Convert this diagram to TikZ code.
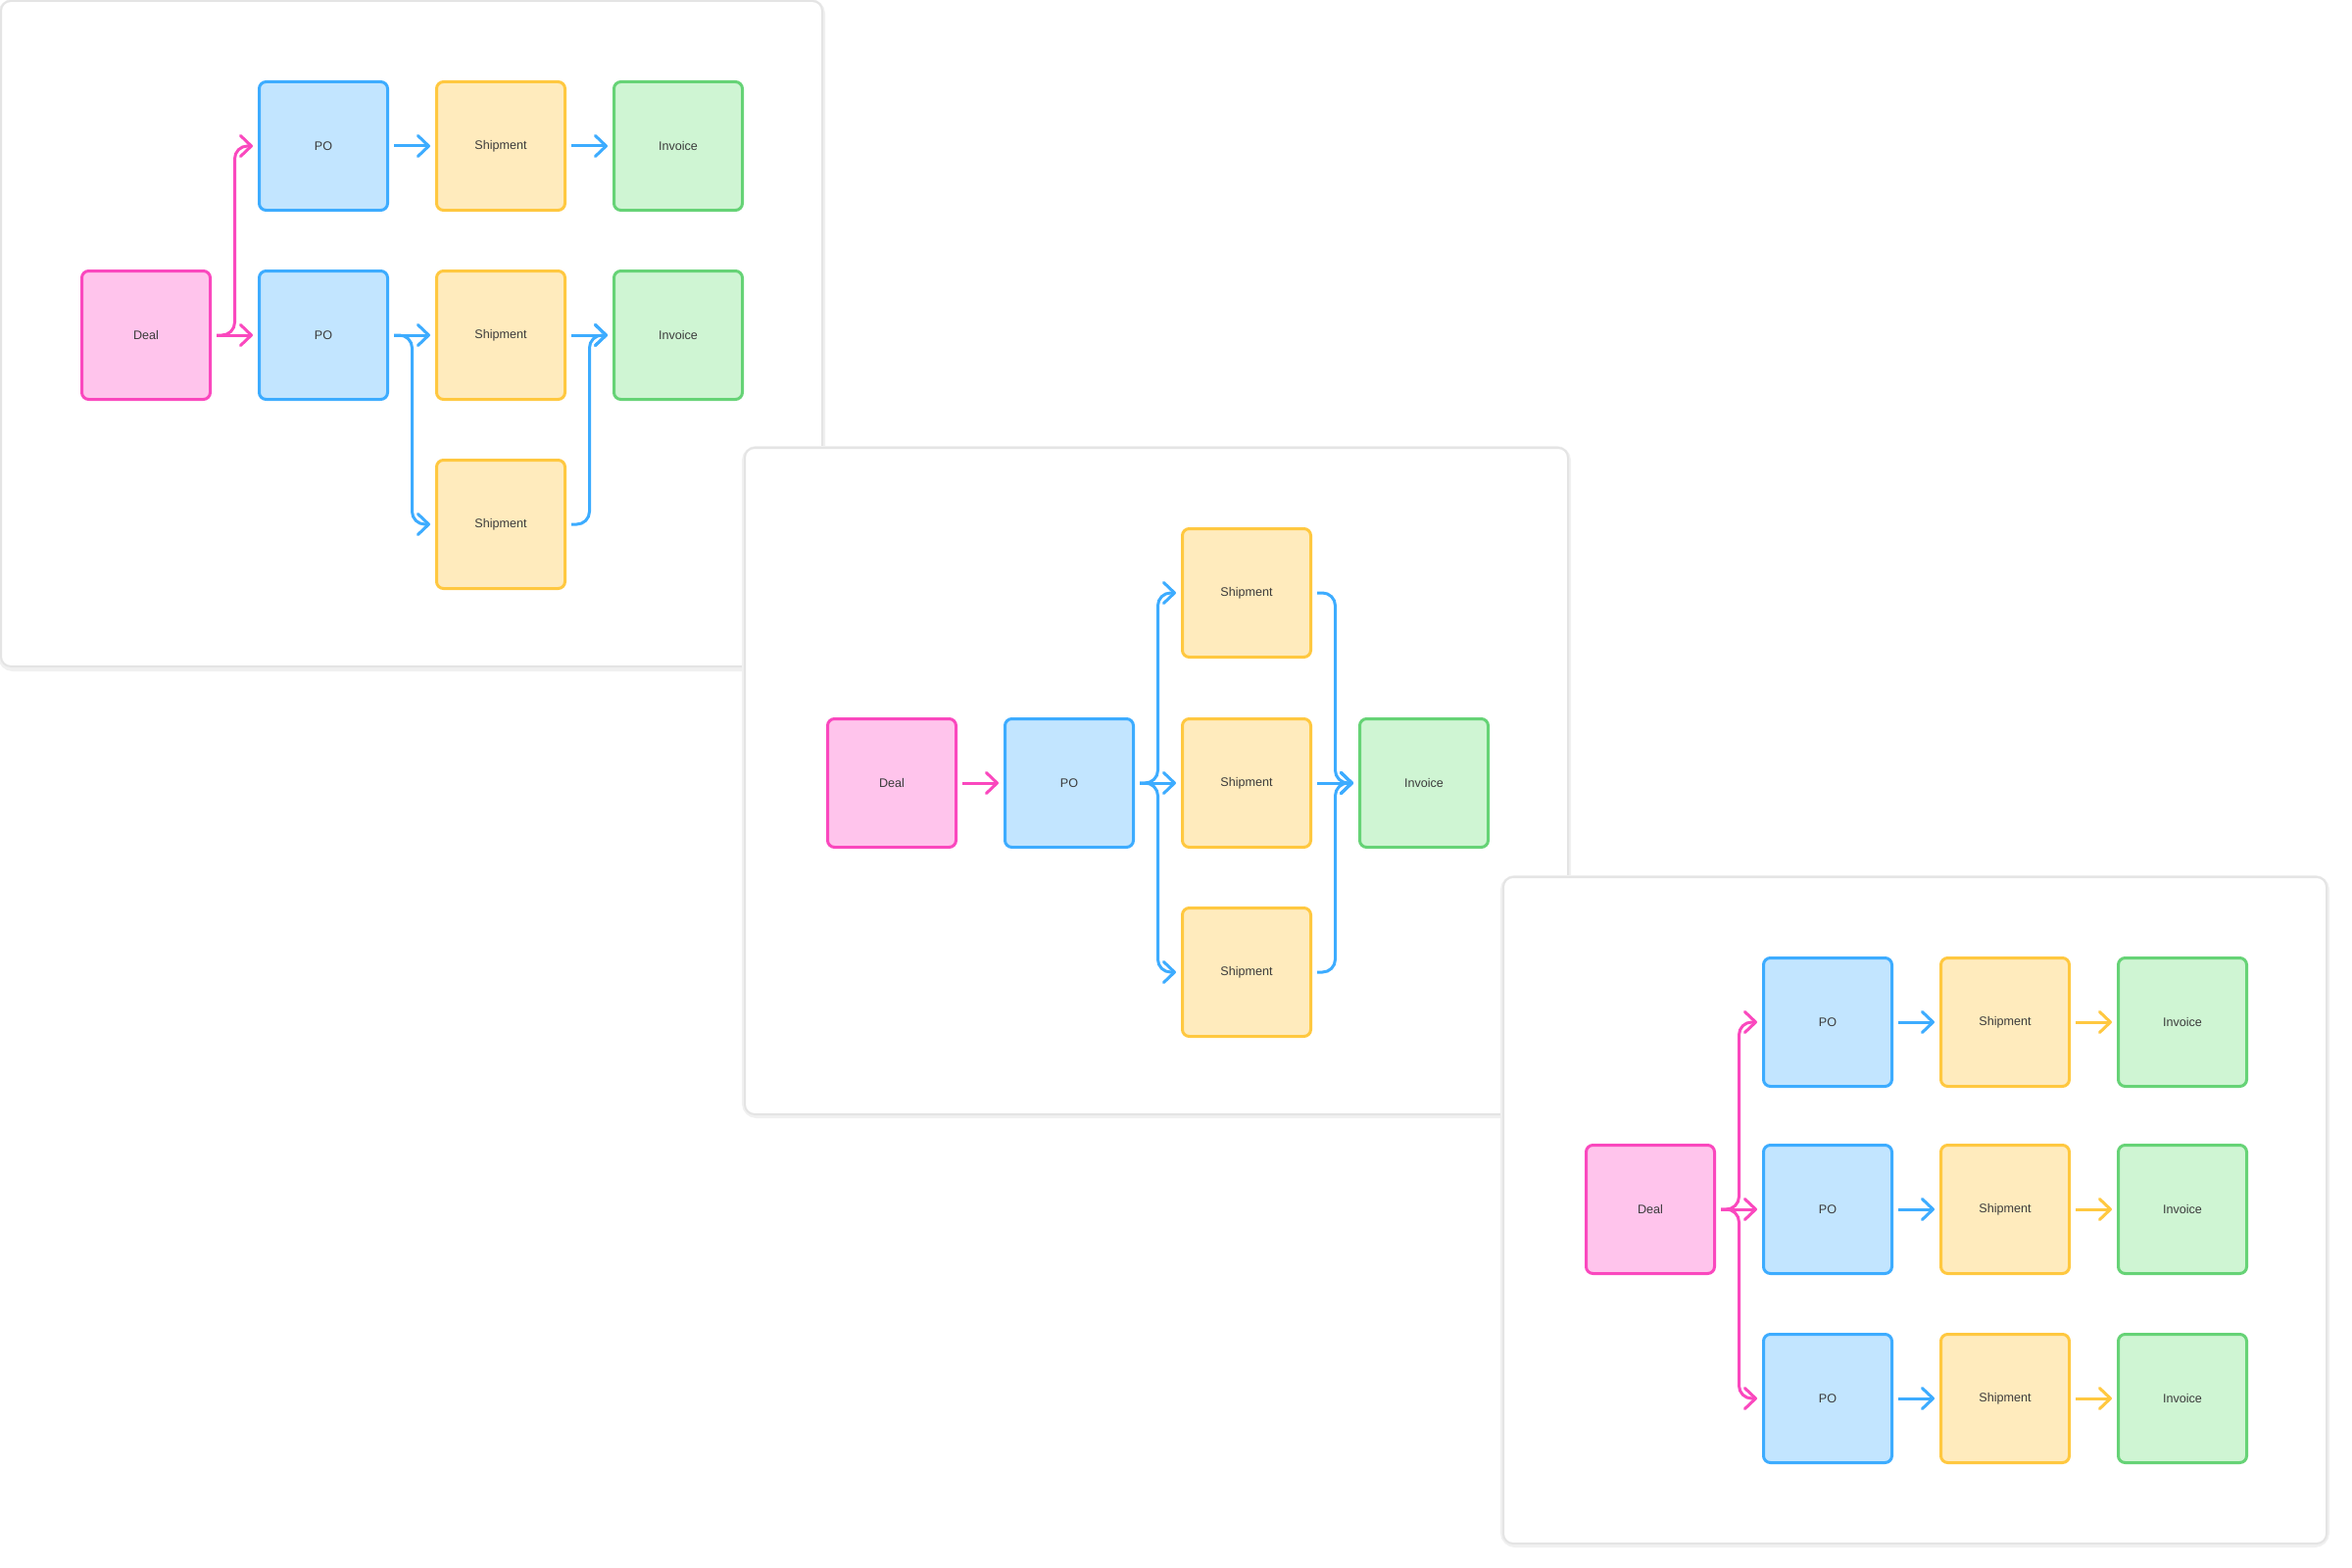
\documentclass[tikz,border=0pt]{standalone}
\usepackage{fontspec}
\setmainfont{Liberation Sans}
\usetikzlibrary{arrows.meta}
\definecolor{dealline}{RGB}{250,72,190}
\definecolor{dealfill}{RGB}{255,196,236}
\definecolor{poline}{RGB}{61,172,255}
\definecolor{pofill}{RGB}{194,229,255}
\definecolor{shipline}{RGB}{255,200,64}
\definecolor{shipfill}{RGB}{255,235,189}
\definecolor{invline}{RGB}{102,211,118}
\definecolor{invfill}{RGB}{207,245,211}
\definecolor{cardline}{RGB}{228,228,228}
\definecolor{cardshade}{RGB}{240,240,240}
\definecolor{labeltext}{RGB}{60,60,60}
\tikzset{
  card/.style={fill=white,draw=cardline,line width=1pt,rounded corners=5pt},
  cardshadow/.style={draw=cardshade,line width=3pt,rounded corners=6pt},
  box/.style={rectangle,minimum size=65.5pt,inner sep=0pt,outer sep=3.25pt,
    line width=1.5pt,rounded corners=3.5pt,text=labeltext,
    font=\fontsize{6.3}{7.5}\selectfont},
  dealbox/.style={box,draw=dealline,fill=dealfill},
  pobox/.style={box,draw=poline,fill=pofill},
  shipbox/.style={box,draw=shipline,fill=shipfill},
  invbox/.style={box,draw=invline,fill=invfill},
  flow/.style={line width=1.5pt,rounded corners=6.5pt,
    -{Straight Barb[length=5.5pt,width=10.5pt,round]}},
  pinkflow/.style={flow,draw=dealline},
  blueflow/.style={flow,draw=poline},
  yellowflow/.style={flow,draw=shipline}
}
\begin{document}
\begin{tikzpicture}[x=0.5pt,y=-0.5pt]
  \useasboundingbox (0,0) rectangle (2400,1600);
  \begin{scope}[shift={(1,1)}]
    \draw[cardshadow] (0,1) rectangle (838,681);
    \draw[card] (0,0) rectangle (838,679);
    \node[dealbox] (p1deal) at (148,341) {Deal};
    \node[pobox] (p1poa) at (329,148) {PO};
    \node[pobox] (p1pob) at (329,341) {PO};
    \node[shipbox] (p1shipa) at (510,148) {Shipment};
    \node[shipbox] (p1shipb) at (510,341) {Shipment};
    \node[shipbox] (p1shipc) at (510,534) {Shipment};
    \node[invbox] (p1inva) at (691,148) {Invoice};
    \node[invbox] (p1invb) at (691,341) {Invoice};
    \draw[pinkflow] (p1deal.east) -- ++(18.5,0) |- (p1poa.west);
    \draw[pinkflow] (p1deal.east) -- (p1pob.west);
    \draw[blueflow] (p1poa.east) -- (p1shipa.west);
    \draw[blueflow] (p1shipa.east) -- (p1inva.west);
    \draw[blueflow] (p1pob.east) -- (p1shipb.west);
    \draw[blueflow] (p1pob.east) -- ++(18.5,0) |- (p1shipc.west);
    \draw[blueflow] (p1shipb.east) -- (p1invb.west);
    \draw[blueflow] (p1shipc.east) -- ++(18.5,0) |- (p1invb.west);
  \end{scope}
  \begin{scope}[shift={(760,457)}]
    \draw[cardshadow] (0,1) rectangle (840,681);
    \draw[card] (0,0) rectangle (840,680);
    \node[dealbox] (p2deal) at (150,342) {Deal};
    \node[pobox] (p2po) at (331,342) {PO};
    \node[shipbox] (p2shipa) at (512,148) {Shipment};
    \node[shipbox] (p2shipb) at (512,342) {Shipment};
    \node[shipbox] (p2shipc) at (512,535) {Shipment};
    \node[invbox] (p2inv) at (693,342) {Invoice};
    \draw[pinkflow] (p2deal.east) -- (p2po.west);
    \draw[blueflow] (p2po.east) -- ++(18.5,0) |- (p2shipa.west);
    \draw[blueflow] (p2po.east) -- (p2shipb.west);
    \draw[blueflow] (p2po.east) -- ++(18.5,0) |- (p2shipc.west);
    \draw[blueflow] (p2shipa.east) -- ++(18.5,0) |- (p2inv.west);
    \draw[blueflow] (p2shipb.east) -- (p2inv.west);
    \draw[blueflow] (p2shipc.east) -- ++(18.5,0) |- (p2inv.west);
  \end{scope}
  \begin{scope}[shift={(1534,895)}]
    \draw[cardshadow] (0,1) rectangle (840,681);
    \draw[card] (0,0) rectangle (840,680);
    \node[dealbox] (p3deal) at (150,339) {Deal};
    \node[pobox] (p3poa) at (331,148) {PO};
    \node[pobox] (p3pob) at (331,339) {PO};
    \node[pobox] (p3poc) at (331,532) {PO};
    \node[shipbox] (p3shipa) at (512,148) {Shipment};
    \node[shipbox] (p3shipb) at (512,339) {Shipment};
    \node[shipbox] (p3shipc) at (512,532) {Shipment};
    \node[invbox] (p3inva) at (693,148) {Invoice};
    \node[invbox] (p3invb) at (693,339) {Invoice};
    \node[invbox] (p3invc) at (693,532) {Invoice};
    \draw[pinkflow] (p3deal.east) -- ++(18.5,0) |- (p3poa.west);
    \draw[pinkflow] (p3deal.east) -- (p3pob.west);
    \draw[pinkflow] (p3deal.east) -- ++(18.5,0) |- (p3poc.west);
    \draw[blueflow] (p3poa.east) -- (p3shipa.west);
    \draw[blueflow] (p3pob.east) -- (p3shipb.west);
    \draw[blueflow] (p3poc.east) -- (p3shipc.west);
    \draw[yellowflow] (p3shipa.east) -- (p3inva.west);
    \draw[yellowflow] (p3shipb.east) -- (p3invb.west);
    \draw[yellowflow] (p3shipc.east) -- (p3invc.west);
  \end{scope}
\end{tikzpicture}
\end{document}
